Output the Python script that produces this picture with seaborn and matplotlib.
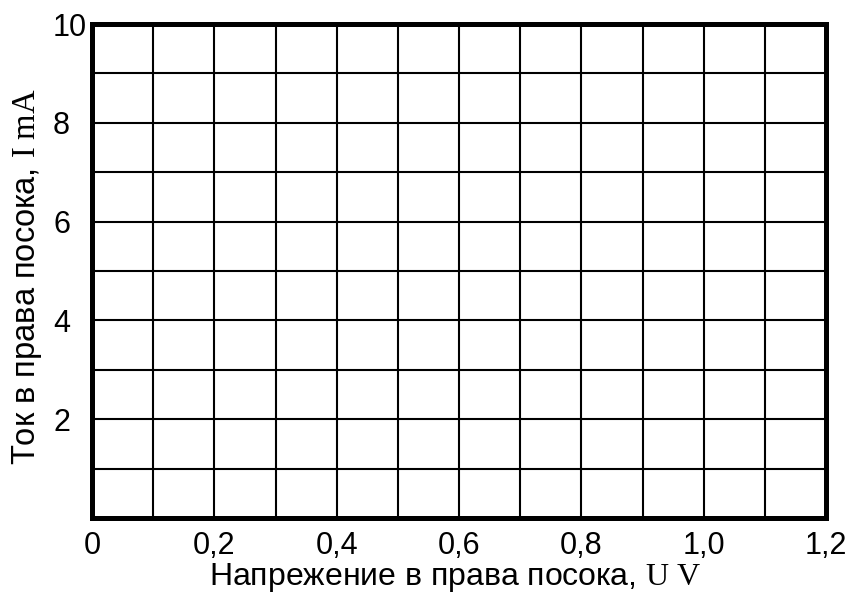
import numpy as np
import pandas as pd
import matplotlib
matplotlib.use("Agg")
import matplotlib.pyplot as plt
import seaborn as sns

# Axis ranges and tick values
x_ticks = [round(0.1 * i, 1) for i in range(13)]
x_labelled = [0.0, 0.2, 0.4, 0.6, 0.8, 1.0, 1.2]
y_ticks = list(range(0, 11))
y_labelled = [2, 4, 6, 8, 10]

x_label = "Напрежение в права посока, $\\mathrm{U\\ V}$"
y_label = "Ток в права посока, $\\mathrm{I\\ mA}$"

sns.set_theme(style="white")
plt.rcParams["font.family"] = ["Liberation Sans", "DejaVu Sans"]
plt.rcParams["mathtext.fontset"] = "custom"
plt.rcParams["mathtext.rm"] = "Liberation Serif"
plt.rcParams["mathtext.it"] = "Liberation Serif:italic"

fig = plt.figure(figsize=(8.48, 5.92), dpi=100, facecolor="white")
ax = fig.add_axes([92 / 848, 1 - 518 / 592, 734 / 848, 494 / 592])

# Empty measurement sheet: no data series yet
empty = pd.DataFrame({"U": pd.Series(dtype=float), "I": pd.Series(dtype=float)})
sns.lineplot(data=empty, x="U", y="I", ax=ax)

ax.set_xlim(0, 1.2)
ax.set_ylim(0, 10)

def fmt(v):
    return "0" if v == 0 else f"{v:.1f}".replace(".", ",")

ax.set_xticks(x_ticks)
ax.set_xticklabels([fmt(v) if any(abs(v - l) < 1e-9 for l in x_labelled) else "" for v in x_ticks])
ax.set_yticks(y_ticks)
ax.set_yticklabels([str(v) if v in y_labelled else "" for v in y_ticks])

ax.grid(True, color="black", linewidth=1.5)
ax.set_axisbelow(True)
for s in ax.spines.values():
    s.set_visible(True)
    s.set_color("black")
    s.set_linewidth(3.6)
    s.set_zorder(3)

ax.tick_params(axis="both", length=0, labelsize=22, colors="black")
ax.tick_params(axis="x", pad=9)
ax.tick_params(axis="y", pad=28)
for t in ax.get_yticklabels():
    t.set_horizontalalignment("left")

ax.set_xlabel(x_label, fontsize=23, color="black", va="center", ha="center")
ax.xaxis.set_label_coords((455 - 92) / 734, (518 - 577) / 494)
ax.set_ylabel(y_label, fontsize=23.5, color="black", va="center", ha="center")
ax.yaxis.set_label_coords((27 - 92) / 734, 0.488)

fig.savefig("out.png", dpi=100, facecolor="white")
